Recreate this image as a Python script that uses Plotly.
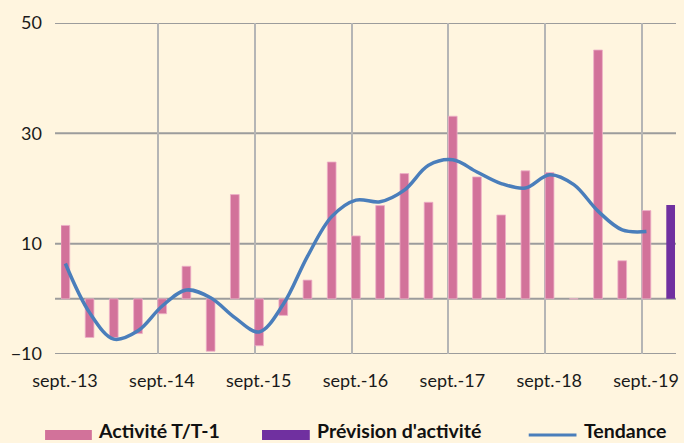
import plotly.graph_objects as go

# Quarterly series, sept.-13 to dec.-19
year_labels = ["sept.-13", "sept.-14", "sept.-15", "sept.-16", "sept.-17", "sept.-18", "sept.-19"]
y_ticks = [-10, 10, 30, 50]

activite = [13.3, -7.0, -7.0, -6.3, -2.7, 5.9, -9.5, 18.9, -8.5, -3.0,
            3.4, 24.8, 11.4, 16.9, 22.7, 17.5, 33.1, 22.1, 15.2, 23.2,
            22.9, 0.0, 45.1, 6.9, 16.0]
prevision = [17.0]
tendance = [6.4, -2.5, -7.3, -5.8, -1.3, 1.6, 0.2, -3.4, -6.0, -1.0,
            7.7, 14.9, 17.9, 17.6, 19.7, 24.2, 25.2, 23.0, 20.9, 20.1,
            22.5, 20.7, 15.9, 12.5, 12.2]

PINK = "#D2729A"
PURPLE = "#7030A0"
BLUE = "#4A7EBB"
BG = "#FFF5DF"
HGRID = "#9C9C9C"
VGRID = "#B5B5B5"
FONT = "Lato"

W, H = 684, 443
ML, MR, MT, MB = 61, 5, 23, 89
PX_PER_Q = 24.33
BAR_W = 0.36

plot_w = W - ML - MR
plot_h = H - MT - MB

q_act = list(range(len(activite)))
q_prev = [len(activite) + k for k in range(len(prevision))]
q_line = [q + BAR_W / 2 for q in range(len(tendance))]

fig = go.Figure()
fig.add_trace(go.Bar(x=q_act, y=activite, width=BAR_W, offset=0,
                     marker=dict(color=PINK, line=dict(color="#EEB0C8", width=0.8)),
                     name="Activité T/T-1", showlegend=False))
fig.add_trace(go.Bar(x=q_prev, y=prevision, width=BAR_W, offset=0,
                     marker=dict(color=PURPLE, line=dict(width=0)),
                     name="Prévision d'activité", showlegend=False))
fig.add_trace(go.Scatter(x=q_line, y=tendance, mode="lines",
                         line=dict(color=BLUE, width=3.5, shape="spline", smoothing=1.0),
                         name="Tendance", showlegend=False))


def px_x(p):
    return (p - ML) / plot_w


def px_y(p):
    return (H - MB - p) / plot_h


shapes = []
annotations = []

# Horizontal grid (value ticks plus the zero line), with short ticks to the left
for v in y_ticks + [0]:
    shapes.append(dict(type="line", xref="paper", yref="y", layer="below",
                       x0=px_x(55), x1=1, y0=v, y1=v,
                       line=dict(color=HGRID, width=2)))

# Legend row drawn below the plot
legend_y = 435
items = [
    ("rect", PINK, 45, 92, 98, "Activité T/T-1"),
    ("rect", PURPLE, 263, 311, 318, "Prévision d'activité"),
    ("line", BLUE, 531, 579, 587, "Tendance"),
]
for kind, col, x0, x1, tx, label in items:
    if kind == "rect":
        shapes.append(dict(type="rect", xref="paper", yref="paper",
                           x0=px_x(x0), x1=px_x(x1), y0=px_y(legend_y - 5), y1=px_y(legend_y + 5),
                           fillcolor=col, line=dict(width=0)))
    else:
        shapes.append(dict(type="line", xref="paper", yref="paper",
                           x0=px_x(x0), x1=px_x(x1), y0=px_y(legend_y), y1=px_y(legend_y),
                           line=dict(color=col, width=3)))
    annotations.append(dict(x=px_x(tx - 1), y=px_y(H), xref="paper", yref="paper",
                            text="<b>%s</b>" % label, showarrow=False,
                            xanchor="left", yanchor="bottom", borderpad=0,
                            font=dict(family=FONT, size=19.5, color="#111111")))

fig.update_layout(
    width=W, height=H,
    margin=dict(l=ML, r=MR, t=MT, b=MB),
    paper_bgcolor=BG, plot_bgcolor=BG,
    barmode="overlay",
    shapes=shapes, annotations=annotations,
    xaxis=dict(range=[0, plot_w / PX_PER_Q],
               tickvals=[4 * k for k in range(len(year_labels))],
               ticktext=year_labels,
               showgrid=True, gridcolor=VGRID, gridwidth=2,
               zeroline=False, ticks="", ticklabelshift=4, ticklabelstandoff=14,
               tickfont=dict(family=FONT, size=18, color="#1A1A1A"),
               fixedrange=True),
    yaxis=dict(range=[-10, 50], tickvals=y_ticks,
               showgrid=False, zeroline=False, ticks="",
               ticklabelstandoff=18,
               tickfont=dict(family=FONT, size=18, color="#1A1A1A"),
               fixedrange=True),
)

fig.write_html("out.html")
